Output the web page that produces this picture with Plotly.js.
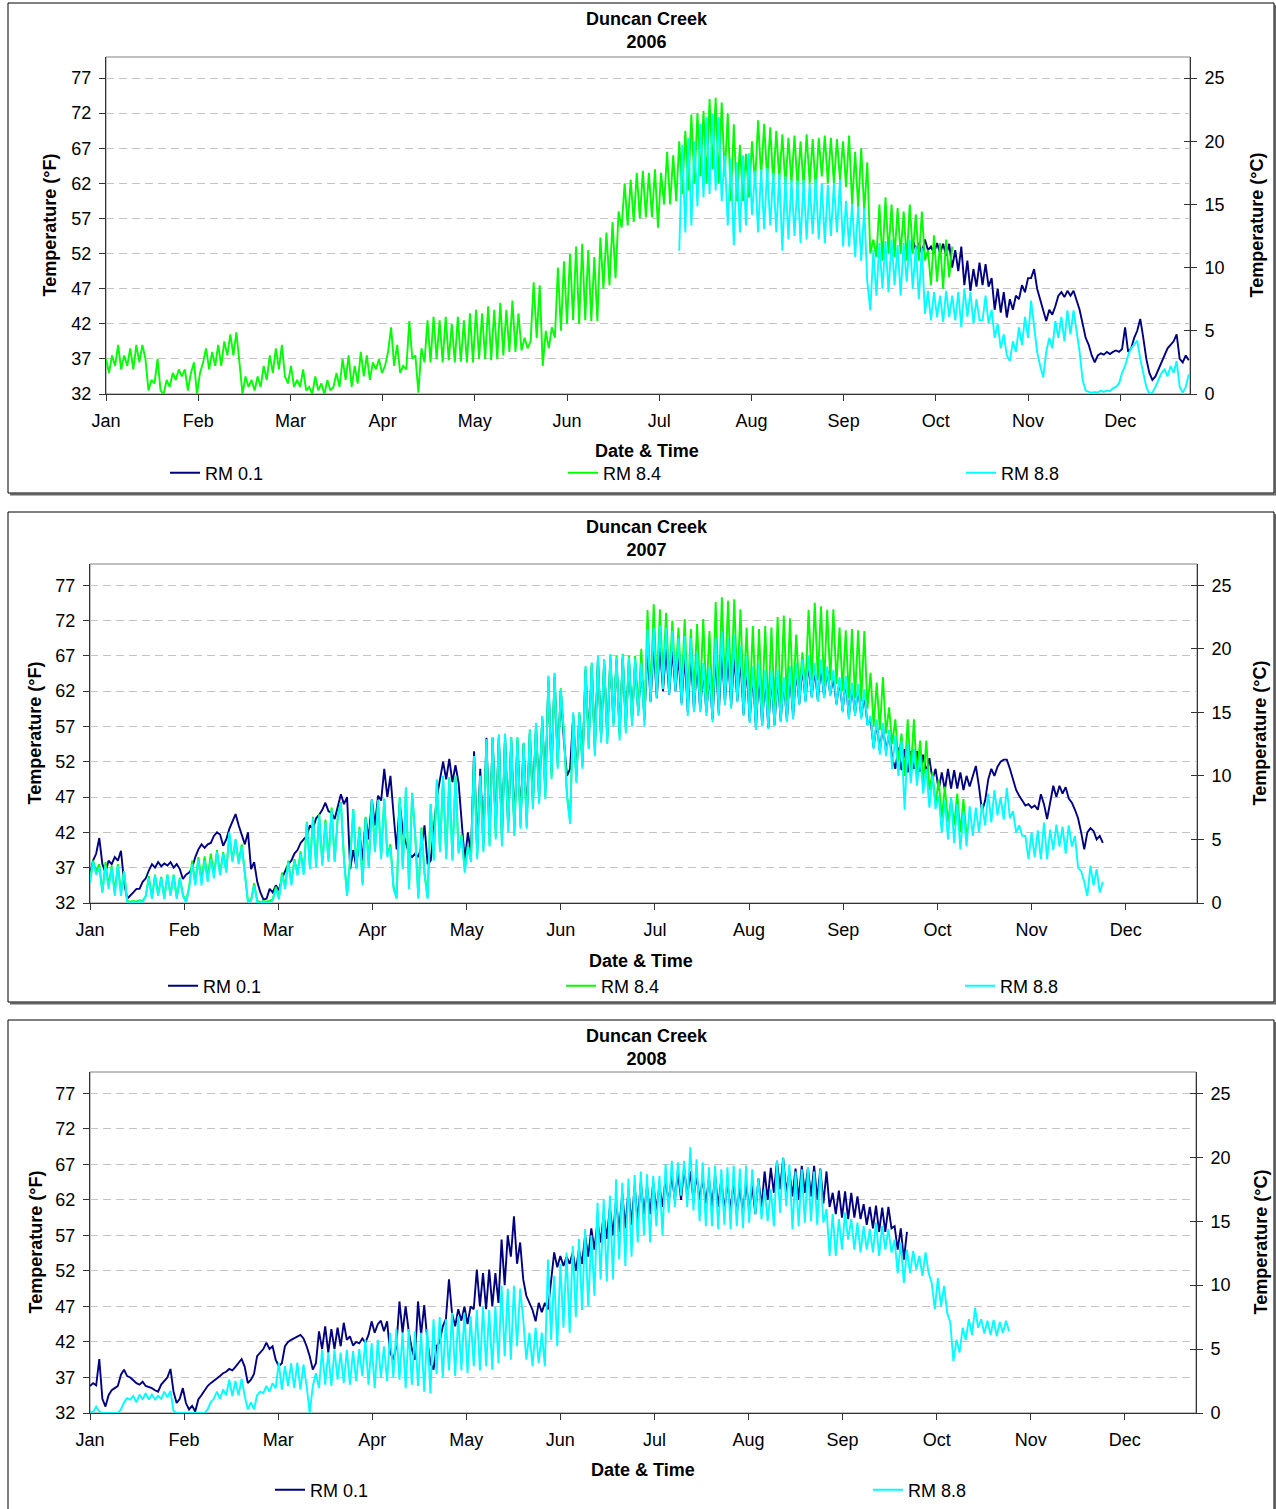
<!DOCTYPE html>
<html><head><meta charset="utf-8">
<script src="https://cdn.plot.ly/plotly-3.0.1.min.js"></script>
<style>html,body{margin:0;padding:0;background:#fff;overflow:hidden;width:1276px;height:1509px}#chart{position:absolute;left:0;top:0;width:1276px;height:1509px;overflow:hidden}</style>
</head><body><div id="chart"></div>
<script>
// ---------------- DATA ----------------
const months = ['Jan','Feb','Mar','Apr','May','Jun','Jul','Aug','Sep','Oct','Nov','Dec'];
const monthTickDays = [0,30.4,60.8,91.2,121.6,152,182.4,212.8,243.2,273.6,304,334.4];
const fTicks = [32,37,42,47,52,57,62,67,72,77];
const cTicks = [0,5,10,15,20,25];
const seriesNames = ['RM 0.1','RM 8.4','RM 8.8'];
const years = ['2006','2007','2008'];

// values in deg F, one reading per day starting at the given day of year
const rm01_2006_start = 265;
const rm01_2006 = [
52,54,52.5,53.5,52,54,52.5,53,52,53.5,
52,53.4,51.7,53.4,50,52.5,49.5,53,47.5,51,
46.7,49.8,47.3,50.7,47.5,50.5,47.3,48.5,44,47,
43.6,46.5,42.9,45.5,44,46,45.5,47.5,46.5,48.5,
48.5,49.8,47,45.5,44,42.4,44,43.3,44.5,46,
46.5,45.8,46.7,46,46.7,45.5,44,42,40,39,
37.5,36.5,37.5,37.8,37.6,38,37.7,38,38.2,38,
38.4,41.5,38,38.5,40,41,42.7,40,37,35,
34,34.5,35.5,36.5,37.5,38.5,39,39.5,40.5,37,
36.5,37.5,36.8];

const rm84_2006_start = 0;
const rm84_2006 = [
37,35,37.5,36,39,35.5,37.5,36,38.5,35.5,
39,36.5,39,37,32.5,34,33.5,37,32.5,32,
34,33,35,34,35.5,34.5,35.5,32.5,35,36.5,
32,35,36.5,38.5,35.5,38,36,39,36,39.5,
37.5,40.5,37.5,40.8,36.5,32,34.5,33,34,32.5,
34.5,33,36,34,37.5,35,38.5,35.5,39,34.5,
33.5,36,33,34,33,35.5,32.5,33,32,34.5,
32.5,33.5,32,34,32.5,33,35,33,37,34,
37.5,33,36,33.5,38,34.5,37.5,34,36.5,35.5,
37,35,36,38,41.5,36,39,35,36,35.5,
42.4,37,37.5,32.2,38.5,36.5,42.5,36.5,43,37,
42.5,36.5,43,36.8,42,36.5,43,36.6,42.5,36.5,
43.5,36.5,44,37,43.5,37,44.5,36.8,44,37,
45,37.5,44,38,45.3,38,43.5,38.2,40,38.5,
39.5,47.9,40,47.5,36,41,38.5,41.5,40,50,
41,50.9,42,52,42.5,53,42,53.4,42.5,52.5,
42.4,51.5,42.4,54.3,47,55,47.5,56.5,48.5,58,
55.7,62,56,62.5,56.5,63.5,57,63.8,57.2,63.5,
57.2,64,55.7,63.5,59,66.5,59,66,59.5,68,
60.5,69.5,61,71.8,62,72,63,72.3,62,74,
64,74.2,62,73.5,63,72,59.5,70.4,59.5,67.5,
59.5,66.2,60,68,62,71,63,70.5,62.5,70,
62,69.5,62.5,69,61.5,68.5,62,68.8,61.5,68,
61.5,69,62,68.3,61,68.5,63,68.8,62,68.5,
62,68.3,62.5,68,61.5,68.8,59,66.5,58.5,67,
58,65,52,54,51.5,59,51,60,52,59,
51.5,58.5,52,58,51,59,52,57.6,51,58,
51,52.5,47.5,54.6,48,53.5,47,54,48.6,53];

const rm88_2006_start = 189;
const rm88_2006 = [
52.4,67.5,55,68.5,56,68,58.7,70.5,60,71.5,
60.5,72,61,71.5,59.5,66,56,65.5,53.2,65,
55,66,56,66.3,57.5,63.8,55,64,55.5,64.2,
56,63.5,55,63.4,52.4,63,54,62.5,54.5,62.4,
53.5,62.5,54,62,54.8,62.7,54,62,53.5,61.8,
54.5,62,55,62.5,53,59.5,53,59,51.5,58.7,
51,58.4,48,43.9,52.5,46,53.5,47,53.8,46.5,
54,47.5,53.2,46,53.5,48,54,47,53,45.5,
52.8,43.4,46.7,42.5,46.5,43,46,42.3,46.7,43,
46,42.5,46.5,41.5,47,43,46.5,42,45.5,42.5,
42.5,46,42,44,40,42,38.5,40.5,37.5,36.7,
39.5,38,41.5,39,43,40,45.3,41.5,38,36,
34.4,38,40,38.5,42.4,40,43,39.5,43.9,40.5,
43.9,41,38,34,32.5,32.3,32.2,32.3,32.2,32.5,
32.3,32.5,32.4,32.8,33,33.5,35,36,37.5,38.5,
39,39.6,37,35,33,32,32.2,33,34,35,
35.5,34.5,36,35,36.7,33,32.2,33,34.8];

const rm01_2007_start = 0;
const rm01_2007 = [
36,38,39,41.2,37.5,36.3,38,37.5,38.5,38,
39.4,35,32.6,33,33.5,34,34,35,35.5,36.6,
37.5,37,37.8,37.2,37.6,37.3,37.8,37,37.5,36.8,
35.4,36,36.3,37,38.5,39.6,40.3,39.8,40.3,40.5,
41.5,42,41.7,40.1,41,42.5,43.5,44.6,43,41.5,
40.3,42,36.8,37.8,35,33.5,32.5,32.6,34,33.5,
34.5,33.8,35.5,36.5,37.5,38,39,39.5,40.5,41,
41.5,43,42.5,44,44.5,45.2,46.2,45,44.8,43.9,
45.5,47.4,46,47,36.8,39.5,37,42,38,44,
41,46.7,43,47.2,46.5,51,47,50,44.6,39.6,
46.2,42,40.5,39,38.5,39,38.5,40,43,37.5,
38,43,47,49.5,52,49.5,52.4,49.1,51.5,49,
43,38,42,39,53.5,39.5,51,40.5,55.4,41.5,
55.4,42.5,55.5,41.5,55.6,43,55,43,55,44,
54.5,44,56,46.5,57,47,58,48,63.5,50.5,
64,52,62,55,50,51,58.5,50,58.5,52,
65,55,65.5,54,66.5,55.5,66,55.5,66.5,57.5,
66.3,56,66.7,57,66.3,58,66,59,65.5,58,
68,60.5,68.5,61,68.5,62,68,61.5,68,62,
67,60.3,67,59,67,59.3,66,59.3,65,59,
64.5,58,67,58.8,67.5,60.3,67,59.8,67,60.6,
66.5,58.7,65.5,57.7,64.5,56.8,64.5,57.2,64,56.8,
64,57.2,64,57.8,63.5,57.8,64.5,58.3,65,60.2,
65.5,60.6,66,61.2,65,60.7,65.5,61.2,65,61.5,
64,60.2,63.5,59.2,63.5,58.3,62.8,58.7,62.5,58.3,
61.5,57.3,58,54,57.5,53.5,57,53.5,56,52.5,
51,54,50.8,53.8,50.5,53.5,51,53.5,50.6,53,
50.5,52.5,49.5,51,48,50.5,48,51,48.2,50.8,
48.2,50.5,48,50,48.5,49.8,51.4,48.5,45,46.5,
49.5,51,50,51.3,52,52.3,52.3,51,49.5,48,
47.2,46.5,45.8,46,45.5,45.8,45.2,47.4,46,43.9,
46,48.6,47,48.6,47.5,48.4,46.8,46.2,45.2,44,
42,39.6,42,42.6,42.2,41,41.5,40.5];

const rm84_2007_start = 0;
const rm84_2007 = [
35.5,38,36.5,37.5,33.5,37.8,34.5,37.3,33.5,37.5,
33.5,36.5,32.3,32.2,32.3,32.2,32.4,32.3,33,35.8,
32.8,36,33.2,35.7,32.8,36,33.2,36,32.8,35.6,
33.2,32.2,34.3,38,34.8,38.5,35.2,38.6,35.5,39,
36,39.5,36.2,39.2,36.5,41.8,38,41,37.8,40.3,
36.3,32.2,32.4,34.8,32.3,32.1,32.3,32.2,32.3,32.5,
34.3,32.8,36.3,34.3,38,34.8,38.2,36.2,39.3,36.3,
43.5,37.2,44.2,37.5,44.6,37.6,43.8,38.2,45.5,38,
44.3,46.3,38.3,33.3,38.3,45.3,37.2,42.8,34.8,44.2,
37.3,46.6,39.4,46.6,38.5,46.8,38.8,40.3,34.3,32.8,
47,37,48.2,34.3,47.6,41.7,32.8,42.7,36.3,32.8,
46,38.3,49.4,39.4,49.9,38.5,49.8,38.3,49.9,39.3,
41.7,36.6,40.2,38,52.6,38.5,50,39.5,55,40.3,
55.4,41.3,55.8,40.3,55.9,42.3,55.5,41.8,55.4,42.8,
54.7,42.8,56.5,45.5,57.4,46.3,58.4,47,64,49.8,
64.5,51.3,62.4,56.2,47.3,43.8,58.8,49.3,59,51.3,
65.4,54,66,53,66.8,55,66.5,54.8,67.2,57.3,
67,55.5,67.3,56.5,67,57.5,67,59,68,58,
73.5,61.5,74.3,62.5,73.6,64,73.1,63,72,63.5,
71,62,72.2,61,70.8,61.5,71.5,61.5,72.2,61,
70.5,60,74.6,61,75.3,62.5,74.8,62,75,62.5,
73.6,61,71,60,71.2,59.5,70.8,59.5,71.2,59,
71,59.5,72.5,60,72.7,60.5,72.3,60.5,70,62,
67.5,62.5,73.5,63.5,74.5,63.5,74,63,73.5,63.5,
73.6,63,71,62,70.6,61,70.8,61,70.6,60.5,
70.5,59.5,64.6,57,63.2,56.5,64,56,59.7,54.5,
58,52,56,50,58,50.5,58,50,55,49,
55,48,50.5,46,49.5,44,48.5,43.5,46.7,43,
47.5,42,46.7,41.5];

const rm88_2007_start = 0;
const rm88_2007 = [
34.9,37.8,36,37,33.5,37.3,34,37,33,37.3,
33,36.5,32.2,32.1,32.2,32,32.3,32.1,33,35.5,
32.6,35.9,33,35.5,32.5,36,33,35.9,32.6,35.5,
33,32.1,34,37.5,34.5,38.2,34.5,38,35,38.2,
35.5,39.2,35.9,39,36.3,42,37.8,41,37.5,40,
36,32.1,32.3,34.5,32.1,32,32.2,32,32.1,32.3,
34,32.5,36,34,37.8,34.5,38,35.9,39,36,
43.4,36.8,44,37,44.4,37.3,43.4,37.8,45.3,37.8,
44,46.2,38,33,38,45.3,36.8,42.5,34.5,44,
37,46.7,39.2,46.5,38.2,46.7,38.5,40,34,32.6,
47,36.8,48.4,34,47.5,41.5,32.6,42.5,36,32.6,
46,38,49.5,39.2,50,38.2,49.8,38,50,39,
41.5,36.3,40,37.8,52.8,38.2,50,39.2,55.2,40,
55.5,41,55.9,40,56,42,55.5,41.5,55.5,42.5,
54.7,42.5,56.6,45.3,57.5,46,58.5,46.7,64.2,49.5,
64.6,51,62.3,56,47,43.2,59,49,59,51,
65.6,53.8,66,52.8,67,54.7,66.5,54.5,67.2,57,
66.8,55,67.2,56,66.8,57,66.6,58.5,66,57,
70.8,60.4,71,61,71.3,62.3,71,61.5,70.5,62,
69.5,60,69.8,58.5,69.5,59,67.5,59,66,58.5,
65.5,57.6,69.5,58.5,70.5,60,69.5,59.5,70,60.4,
68.5,58.5,67,57.5,65.5,56.5,66,57,65,56.6,
65,57,65,57.6,64,57.6,65.5,58,66,60,
66.5,60.4,67,61,66,60.5,66.5,61,65.5,61.3,
65,60,64,59,64.2,58,63.2,58.5,63,58,
62.3,57.1,58.5,53.8,58,53,57.5,52.8,56.5,51,
55.7,50,55,45.2,54.5,49,53.8,48.6,52.8,47.5,
51,45.5,50,45.3,47.2,42,46.5,41,47,40.5,
46,39.6,45,40,45.7,41.5,45.5,42,46,43,
47.5,43.4,48,44.4,47,43.8,48.3,44,45,42,
43,41.5,41.5,38.2,42,38.5,42.3,38.2,43.4,38.2,
42.4,39.5,43.1,40,42.8,39,43,40,41.5,37,
36.5,35,33,37.3,34.5,36.8,33.5,35];

const rm01_2008_start = 0;
const rm01_2008 = [
35.8,36.2,35.9,39.6,34,32.9,34.5,35.2,35.5,35.8,
37.4,38.1,37.2,37,36.6,36.2,36,36.4,35.8,35.7,
35.5,35.2,35,36,36.5,37,38.2,35,33.4,34,
35.5,33.4,32.5,33,32.2,33.9,34.5,35.2,35.8,36.2,
36.5,36.8,37.2,37.6,37.8,38.2,38,38.5,39,39.6,
38.5,36.2,36.7,37.5,40,40.5,41,41.9,41,41.4,
39.5,38.6,39,41.4,42,42.3,42.5,42.8,43,42.5,
41.4,40,38.1,39,43.5,41,44.2,40.5,43.8,41,
44,41.4,44.7,42.3,42.8,41.5,42,41.8,42.5,41.9,
43,44.9,43.3,44.5,45,43.5,44.9,40.5,39.5,41.4,
47.7,43.3,47,43.5,41,39.5,47.7,43,47.2,42.3,
39,38.1,41.4,42,44.2,45.2,50.8,46,44.2,46.6,
45,47,44.5,47,46.6,52.2,47,51.7,46.6,52.2,
47,51.7,47.5,56.4,50,57,54,59.7,53,56,
50.8,48.5,47.5,46.5,44.9,47.5,46.2,47.5,46.6,51,
54.6,52.5,54.1,52.7,54,53,54.6,52,55,53,
57,54,58,55,59,56,60,56.5,61,57,
62,57.5,63,58,63.5,58.5,64,59,64.5,60,
64,60,64.5,60.5,64,61,65,61.5,65.5,62,
66,62,66.5,62.5,66,62,65.5,62,65,61.5,
65,61,65.5,61,65,60.5,64.5,60.5,64.5,60,
64,60,64.5,60.5,64,60,65,61,66,62,
66.5,63,67.5,63.5,67.9,63,66,62.5,66.4,62,
66.8,63,66.5,62.5,66.8,62,66.4,61.5,66,61,
63,60,63.3,59.5,63.2,59.3,63,59.5,62.5,59.3,
61.4,58.5,61,58,61.2,57.5,60.9,57.5,61,58,
58.3,55,58,53.6,57.5];

const rm88_2008_start = 0;
const rm88_2008 = [
32.2,32.1,32.9,32.2,32,32,32,32,32,32,
32.5,33.5,34.1,33.9,34.4,33.5,34.6,33.9,34.8,33.9,
34.6,33.9,34.4,34,35,34.2,35.1,32.3,32,32,
32,32,32,32,32,32,32,32,32.5,33.5,
34,35,34,35.3,34.5,36.7,34.4,36.5,34.5,36.8,
34.4,32.5,33.5,32.5,34.5,35,34.8,35.8,35,36.2,
35.5,39.1,35.3,38.6,35.8,39,35.5,39.1,35.3,38.8,
35.8,32,35.8,37.6,35.5,40.9,36,40.5,35.8,40.9,
36.7,40.5,36.2,40.9,36,40.7,36.5,41,37.2,42.3,
36,41.8,35.5,42.3,37,41.4,36.5,43.3,37,43.8,
36.7,43.3,35.5,43.8,36,43.5,35.8,43.3,35,43.8,
34.8,45.2,37.5,45.5,37,45.2,38,46.1,37.2,45.6,
38,46.1,37.6,45.6,38.6,46.5,38,47,38.6,46.5,
38.1,47,39,49.9,40,49.5,39.5,49.9,41.4,49.5,
45.2,39.5,43.3,38.6,44,39,43.3,38.6,53.6,42.3,
51.3,41.4,53,44,54.6,43.3,55.5,45.5,56.5,46.5,
57.9,47,57,48.5,61.6,50.8,62,50.5,62.6,50.8,
64.9,53.6,64.4,52.7,65,54,65.5,56,66,57,
65.6,56,65.4,58.3,65.4,57,67,60.2,67.5,61,
67.3,62.6,67.5,61,69.4,60.5,67.7,59,67.3,58.3,
66.6,58.3,66.8,57.9,66.3,58.5,66.6,57.9,66.8,58.3,
66.4,58,66.8,58.8,66.3,60,65,59.3,63.5,59,
63.5,58.3,67.5,60.2,68,61.1,67,57.9,66,58.3,
66.3,58.8,66.6,59,66,58.5,66.3,58.8,60.7,54.1,
60,54.1,59.3,55,60.2,56.4,59.3,55,58.8,54.6,
58.3,55,57.9,54.6,58.8,54.1,58.3,55,57.9,54.6,
56.4,51.7,56,50.3,55,51.7,54.8,52.2,54.1,51.3,
54.6,51.7,50.3,46.6,51,47,49.9,46.1,44.7,39.3,
42.3,40.5,44,42.3,45.2,43,46.8,44,45.2,43.2,
45,43,45.1,42.8,44.8,43.3,45,43.5];

// ---------------- CHART ----------------
const W = 1276, H = 1509;
const FONT = 'Liberation Sans, Arial, Helvetica, sans-serif';
const fx = p => p / W;
const fy = p => 1 - p / H;
const COLORS = {'RM 0.1':'#000080','RM 8.4':'#00FF00','RM 8.8':'#00FFFF'};
const X_MAX = 357.4;
const Y_MIN = 32, Y_MAX = 80;

const panelSeries = [
  [['RM 0.1', rm01_2006_start, rm01_2006], ['RM 8.4', rm84_2006_start, rm84_2006], ['RM 8.8', rm88_2006_start, rm88_2006]],
  [['RM 0.1', rm01_2007_start, rm01_2007], ['RM 8.4', rm84_2007_start, rm84_2007], ['RM 8.8', rm88_2007_start, rm88_2007]],
  [['RM 0.1', rm01_2008_start, rm01_2008], ['RM 8.8', rm88_2008_start, rm88_2008]]
];

// pixel geometry of each panel (legend item x = left end of its line sample)
const geo = [
  {box:[8,3,1274,493], plot:[106,57,1190,394], title:30, ylx:50, yrx:1257, xtx:647, xt:451, leg:473, legx:[170,568,966]},
  {box:[8,512,1274,1002], plot:[90,564,1197,903], title:538, ylx:35, yrx:1260, xtx:641, xt:961, leg:986, legx:[168,566,965]},
  {box:[8,1020,1274,1530], plot:[90,1072,1196,1413], title:1047, ylx:35, yrx:1260, xtx:643, xt:1470, leg:1490, legx:[275,873]}
];

const traces = [];
const layout = {
  width: W, height: H, autosize: false, showlegend: true,
  margin: {l:0, r:0, t:0, b:0, pad:0},
  paper_bgcolor: '#fff', plot_bgcolor: 'rgba(0,0,0,0)',
  font: {family: FONT, size: 18, color: '#000'},
  shapes: [], annotations: []
};

let legendCount = 0;
geo.forEach((g, i) => {
  const n = i + 1;
  const xId = n === 1 ? 'x' : 'x' + n;
  const yL = 'y' + (n === 1 ? '' : (3*n - 2));
  const yR = 'y' + (3*n - 1);
  const yRi = 'y' + (3*n);
  const xKey = n === 1 ? 'xaxis' : 'xaxis' + n;
  const yLKey = n === 1 ? 'yaxis' : 'yaxis' + (3*n - 2);
  const yRKey = 'yaxis' + (3*n - 1);
  const yRiKey = 'yaxis' + (3*n);
  const [L, T, R, B] = g.plot;
  const tickfont = {family: FONT, size: 18, color: '#000'};

  layout[xKey] = {
    domain: [fx(L), fx(R)], anchor: yL, range: [0, X_MAX],
    tickmode: 'array', tickvals: monthTickDays, ticktext: months,
    ticks: 'outside', ticklen: 6, tickcolor: '#333', tickwidth: 1,
    showline: true, linecolor: '#333', linewidth: 1,
    showgrid: false, zeroline: false, fixedrange: true,
    tickfont: tickfont, ticklabelstandoff: 4
  };
  layout[yLKey] = {
    domain: [fy(B), fy(T)], anchor: xId, range: [Y_MIN, Y_MAX],
    tickmode: 'array', tickvals: fTicks,
    ticks: 'outside', ticklen: 6, tickcolor: '#333',
    showline: true, linecolor: '#333', linewidth: 1,
    showgrid: true, gridcolor: '#c4c4c4', gridwidth: 1, griddash: '8px,5px',
    zeroline: false, fixedrange: true,
    tickfont: tickfont, ticklabelstandoff: 4
  };
  const cRange = [(Y_MIN - 32) / 1.8, (Y_MAX - 32) / 1.8];
  layout[yRKey] = {
    overlaying: yL, side: 'right', anchor: xId, range: cRange,
    tickmode: 'array', tickvals: cTicks,
    ticks: 'outside', ticklen: 6, tickcolor: '#333',
    showline: true, linecolor: '#333', linewidth: 1,
    showgrid: false, zeroline: false, fixedrange: true,
    tickfont: tickfont, ticklabelstandoff: 4
  };
  // inner half of the crossing ticks on the deg C axis
  layout[yRiKey] = {
    overlaying: yL, side: 'right', anchor: xId, range: cRange,
    tickmode: 'array', tickvals: cTicks, showticklabels: false,
    ticks: 'inside', ticklen: 6, tickcolor: '#333',
    showline: false, showgrid: false, zeroline: false, fixedrange: true
  };

  panelSeries[i].forEach(([name, start, vals], j) => {
    legendCount += 1;
    const legKey = legendCount === 1 ? 'legend' : 'legend' + legendCount;
    layout[legKey] = {
      orientation: 'h', x: fx(g.legx[j] - 5), xanchor: 'left', y: fy(g.leg), yanchor: 'middle',
      font: {family: FONT, size: 18, color: '#000'}, bgcolor: 'rgba(0,0,0,0)', borderwidth: 0
    };
    traces.push({
      type: 'scatter', mode: 'lines', name: name,
      x: vals.map((v, k) => start + k), y: vals,
      xaxis: xId, yaxis: yL, legend: legKey,
      line: {color: COLORS[name], width: 1.9}, hoverinfo: 'skip'
    });
  });
  // empty traces so the secondary (deg C) axes are drawn
  traces.push({type: 'scatter', mode: 'lines', x: [], y: [], xaxis: xId, yaxis: yR, showlegend: false, hoverinfo: 'skip'});
  traces.push({type: 'scatter', mode: 'lines', x: [], y: [], xaxis: xId, yaxis: yRi, showlegend: false, hoverinfo: 'skip'});

  // panel frame with shadow
  const [bx0, by0, bx1, by1] = g.box;
  layout.shapes.push({type:'line', xref:'paper', yref:'paper', x0:fx(bx0+2), x1:fx(bx1+2), y0:fy(by1+1.5), y1:fy(by1+1.5), line:{color:'#666', width:2}, layer:'below'});
  layout.shapes.push({type:'line', xref:'paper', yref:'paper', x0:fx(bx1+1.5), x1:fx(bx1+1.5), y0:fy(by0+2), y1:fy(Math.min(by1+2, H)), line:{color:'#666', width:2}, layer:'below'});
  layout.shapes.push({type:'rect', xref:'paper', yref:'paper', x0:fx(bx0), x1:fx(bx1), y0:fy(Math.min(by1, H + 5)), y1:fy(by0), line:{color:'#000', width:1}, layer:'below'});
  // plot area border
  layout.shapes.push({type:'rect', xref:'paper', yref:'paper', x0:fx(L), x1:fx(R), y0:fy(B), y1:fy(T), line:{color:'#808080', width:1}, layer:'below'});

  const bold = {family:FONT, size:18, weight:700, color:'#000'};
  layout.annotations.push({xref:'paper', yref:'paper', x: fx(647), y: fy(g.title), xanchor:'center', yanchor:'middle', showarrow:false,
    text: 'Duncan Creek<br>' + years[i], font: bold});
  layout.annotations.push({xref:'paper', yref:'paper', x: fx(g.xtx), y: fy(g.xt), xanchor:'center', yanchor:'middle', showarrow:false,
    text: 'Date &amp; Time', font: bold});
  const ym = fy((T + B) / 2);
  layout.annotations.push({xref:'paper', yref:'paper', x: fx(g.ylx), y: ym, xanchor:'center', yanchor:'middle', showarrow:false, textangle:-90,
    text: 'Temperature (°F)', font: bold});
  layout.annotations.push({xref:'paper', yref:'paper', x: fx(g.yrx), y: ym, xanchor:'center', yanchor:'middle', showarrow:false, textangle:-90,
    text: 'Temperature (°C)', font: bold});
});

Plotly.newPlot('chart', traces, layout, {staticPlot: true, displayModeBar: false});
</script>
</body></html>
